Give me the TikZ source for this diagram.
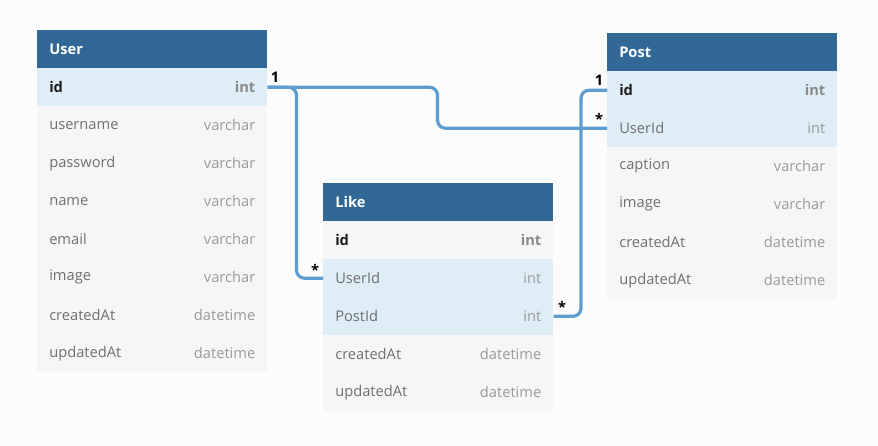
\documentclass[tikz,border=0pt]{standalone}
\usepackage{fontspec}
\setmainfont{Open Sans}
\definecolor{bgc}{HTML}{FCFCFC}
\definecolor{hdrc}{HTML}{316896}
\definecolor{rowc}{HTML}{F6F6F6}
\definecolor{rowhc}{HTML}{DEEDF6}
\definecolor{fieldc}{HTML}{707070}
\definecolor{typec}{HTML}{9A9A9A}
\definecolor{idc}{HTML}{1E1E1E}
\definecolor{idtc}{HTML}{8A8A8A}
\definecolor{connc}{HTML}{5E9DD0}
\tikzset{
  cell/.style={anchor=north west, inner sep=0pt, minimum width=172.5pt, minimum height=28.5pt, draw=none},
  hdrcell/.style={cell, fill=hdrc},
  rowcell/.style={cell, fill=rowc},
  hlcell/.style={cell, fill=rowhc},
  hdrtext/.style={anchor=west, inner sep=0pt, text=white, font=\fontsize{11}{13}\selectfont\bfseries},
  fieldtext/.style={anchor=west, inner sep=0pt, text=fieldc, font=\fontsize{11}{13}\selectfont},
  typetext/.style={anchor=east, inner sep=0pt, text=typec, font=\fontsize{11}{13}\selectfont},
  idtext/.style={anchor=west, inner sep=0pt, text=idc, font=\fontsize{11}{13}\selectfont\bfseries},
  idtype/.style={anchor=east, inner sep=0pt, text=idtc, font=\fontsize{11}{13}\selectfont\bfseries},
  conn/.style={draw=connc, line width=2.4pt, rounded corners=6pt},
  card/.style={inner sep=0pt, text=black, font=\fontsize{11}{13}\selectfont\bfseries}
}
% #1 name, #2 x, #3 y, #4 cell style, #5 field, #6 type, #7 field style, #8 type style
\newcommand\dbrow[8]{%
  \node[#4] (#1) at (#2,#3) {};
  \node[#7] (#1-f) at ([xshift=9pt]#1.west) {#5};
  \node[#8] (#1-t) at ([xshift=-9pt]#1.east) {#6};
}
\newcommand\dbhead[4]{%
  \node[hdrcell] (#1) at (#2,#3) {};
  \node[hdrtext] (#1-f) at ([xshift=9pt]#1.west) {#4};
}
\begin{document}
\begin{tikzpicture}[x=0.75pt,y=-0.75pt]
\useasboundingbox[fill=bgc] (0,0) rectangle (878,446);
% User
\dbhead{uh}{37}{30}{User}
\dbrow{uid}{37}{68}{hlcell}{id}{int}{idtext}{idtype}
\dbrow{uusername}{37}{106}{rowcell}{username}{varchar}{fieldtext}{typetext}
\dbrow{upassword}{37}{144}{rowcell}{password}{varchar}{fieldtext}{typetext}
\dbrow{uname}{37}{182}{rowcell}{name}{varchar}{fieldtext}{typetext}
\dbrow{uemail}{37}{220}{rowcell}{email}{varchar}{fieldtext}{typetext}
\dbrow{uimage}{37}{258}{rowcell}{image}{varchar}{fieldtext}{typetext}
\dbrow{ucreated}{37}{296}{rowcell}{createdAt}{datetime}{fieldtext}{typetext}
\dbrow{uupdated}{37}{334}{rowcell}{updatedAt}{datetime}{fieldtext}{typetext}
% Post
\dbhead{ph}{607}{33}{Post}
\dbrow{pid}{607}{71}{hlcell}{id}{int}{idtext}{idtype}
\dbrow{puid}{607}{109}{hlcell}{UserId}{int}{fieldtext}{typetext}
\dbrow{pcaption}{607}{147}{rowcell}{caption}{varchar}{fieldtext}{typetext}
\dbrow{pimage}{607}{185}{rowcell}{image}{varchar}{fieldtext}{typetext}
\dbrow{pcreated}{607}{223}{rowcell}{createdAt}{datetime}{fieldtext}{typetext}
\dbrow{pupdated}{607}{261}{rowcell}{updatedAt}{datetime}{fieldtext}{typetext}
% Like
\dbhead{lh}{323}{183}{Like}
\dbrow{lid}{323}{221}{rowcell}{id}{int}{idtext}{idtype}
\dbrow{luid}{323}{259}{hlcell}{UserId}{int}{fieldtext}{typetext}
\dbrow{lpid}{323}{297}{hlcell}{PostId}{int}{fieldtext}{typetext}
\dbrow{lcreated}{323}{335}{rowcell}{createdAt}{datetime}{fieldtext}{typetext}
\dbrow{lupdated}{323}{373}{rowcell}{updatedAt}{datetime}{fieldtext}{typetext}
% connectors
\draw[conn] (uid.east) -- ++(29,0) |- (luid.west);
\draw[conn] (uid.east) -- ++(170,0) |- (puid.west);
\draw[conn] (pid.west) -- ++(-26,0) |- (lpid.east);
% cardinalities
\node[card] (c1) at (275,77) {1};
\node[card] (c2) at (315,270) {*};
\node[card] (c3) at (599,80) {1};
\node[card] (c4) at (599,119) {*};
\node[card] (c5) at (562,307) {*};
\end{tikzpicture}
\end{document}
